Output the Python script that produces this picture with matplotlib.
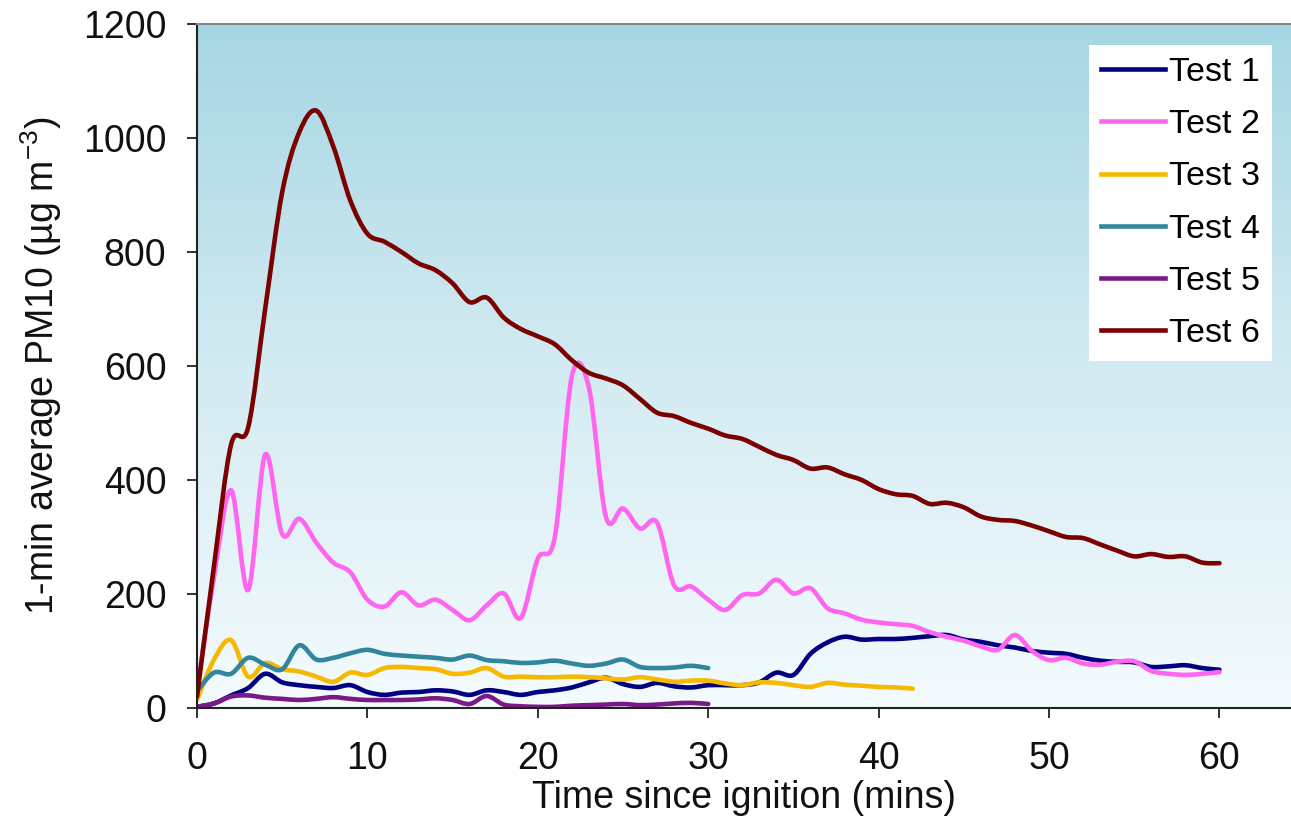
import numpy as np
import matplotlib
matplotlib.use("Agg")
import matplotlib.pyplot as plt
from matplotlib.path import Path
from matplotlib.patches import PathPatch
from matplotlib.lines import Line2D
from matplotlib.colors import LinearSegmentedColormap

plt.rcParams["font.family"] = ["Liberation Sans", "DejaVu Sans"]
plt.rcParams["mathtext.fontset"] = "custom"
plt.rcParams["mathtext.rm"] = "Liberation Sans"

# 1-min averages, minutes since ignition
test1 = [2, 8, 22, 35, 60, 45, 40, 37, 35, 40, 28, 23, 27, 28, 31, 29, 23, 31, 28, 23,
         28, 31, 36, 45, 53, 42, 37, 44, 38, 36, 40, 40, 40, 45, 62, 58, 95, 115, 125, 120,
         121, 121, 123, 126, 128, 120, 116, 110, 106, 100, 97, 95, 88, 83, 81, 80, 72, 73, 75, 70, 67]
test2 = [30, 230, 382, 207, 444, 305, 332, 290, 255, 238, 190, 178, 203, 180, 190, 172, 154, 180, 201, 158,
         262, 300, 582, 562, 335, 350, 315, 325, 215, 213, 190, 172, 198, 201, 225, 201, 210, 175, 166, 155,
         150, 147, 144, 133, 125, 118, 108, 102, 128, 100, 84, 88, 78, 76, 81, 82, 65, 60, 58, 60, 63]
test3 = [14, 85, 119, 55, 79, 68, 64, 55, 46, 62, 58, 70, 72, 70, 68, 60, 62, 70, 55, 55,
         54, 54, 55, 54, 52, 50, 54, 50, 46, 48, 48, 43, 40, 45, 44, 40, 37, 44, 41, 39,
         37, 36, 34]
test4 = [30, 62, 60, 88, 76, 68, 110, 85, 88, 96, 102, 95, 92, 90, 88, 85, 92, 84, 82, 79,
         80, 83, 78, 74, 78, 85, 72, 70, 71, 74, 70]
test5 = [2, 8, 20, 22, 18, 16, 14, 16, 19, 16, 14, 14, 14, 15, 17, 14, 7, 21, 6, 3,
         2, 2, 4, 5, 6, 7, 5, 6, 8, 9, 7]
test6 = [20, 250, 462, 492, 700, 905, 1010, 1048, 985, 890, 832, 818, 800, 780, 768, 745, 712, 720, 685, 665,
         652, 638, 610, 588, 578, 566, 542, 518, 512, 500, 490, 478, 472, 458, 444, 435, 420, 422, 410, 400,
         384, 375, 372, 358, 360, 352, 336, 330, 328, 320, 310, 300, 298, 287, 276, 266, 270, 265, 266, 255, 254]

series = [test1, test2, test3, test4, test5, test6]
labels = ["Test 1", "Test 2", "Test 3", "Test 4", "Test 5", "Test 6"]
colors = ["#000080", "#ff66f0", "#f7b800", "#31859c", "#7a1a86", "#7b0000"]


def smooth_path(x, y):
    # Excel-style smoothed line: cubic Bezier between the data points
    pts = np.column_stack([x, y]).astype(float)
    n = len(pts)
    verts = [pts[0]]
    codes = [Path.MOVETO]
    for i in range(n - 1):
        p0 = pts[max(i - 1, 0)]
        p1 = pts[i]
        p2 = pts[i + 1]
        p3 = pts[min(i + 2, n - 1)]
        verts += [p1 + (p2 - p0) / 6, p2 - (p3 - p1) / 6, p2]
        codes += [Path.CURVE4] * 3
    return Path(verts, codes)


fig = plt.figure(figsize=(12.91, 8.24), dpi=100)
ax = fig.add_axes([0.1526, 0.1408, 0.8474, 0.8301])

xmax = 64.2
cmap = LinearSegmentedColormap.from_list("bg", ["#f4fbfe", "#d3ebf2", "#a6d6e3"])
grad = np.linspace(0, 1, 256).reshape(-1, 1)
ax.imshow(grad, cmap=cmap, origin="lower", aspect="auto",
          extent=[0, xmax, 0, 1200], zorder=0)

handles = []
for ys, lab, c in zip(series, labels, colors):
    xs = np.arange(len(ys))
    ax.add_patch(PathPatch(smooth_path(xs, ys), facecolor="none", edgecolor=c,
                           lw=3.3, zorder=2, capstyle="round", joinstyle="round"))
    handles.append(Line2D([], [], color=c, lw=3.3))

ax.set_xlim(0, xmax)
ax.set_ylim(0, 1200)
ax.set_xticks(np.arange(0, 61, 10))
ax.set_yticks(np.arange(0, 1201, 200))
ax.tick_params(axis="both", direction="out", length=7, width=1.2,
               labelsize=27, colors="#111111")
ax.tick_params(axis="x", pad=17)
ax.tick_params(axis="y", pad=15)
ax.spines["right"].set_visible(False)
ax.spines["top"].set_color("#7f8a8c")
ax.spines["top"].set_linewidth(1.5)
for s in ["left", "bottom"]:
    ax.spines[s].set_linewidth(1.5)
    ax.spines[s].set_color("#222222")

ax.set_xlabel("Time since ignition (mins)", fontsize=27, labelpad=2, color="#111111")
ax.set_ylabel("1-min average PM10 (µg m$^{\\mathregular{-3}}$)", fontsize=27,
              labelpad=14, color="#111111")

leg = fig.legend(handles, labels, loc="upper right", bbox_to_anchor=(0.985, 0.945),
                 fontsize=24.5, frameon=True, fancybox=False, framealpha=1,
                 edgecolor="none", handlelength=1.9, handletextpad=0.1,
                 labelspacing=0.62, borderpad=0.35, borderaxespad=0)

fig.savefig("out.png", dpi=100)
